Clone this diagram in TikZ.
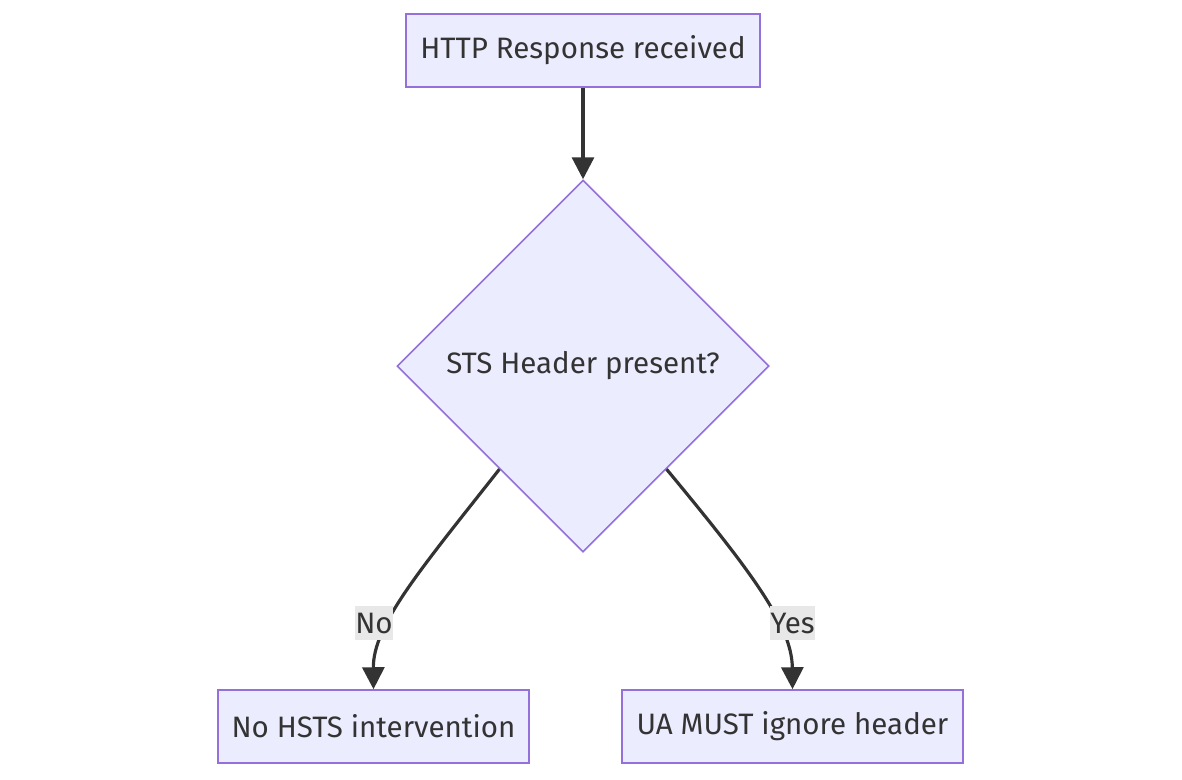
\documentclass[tikz,border=0pt]{standalone}
\usepackage{fontspec}
\setmainfont{Fira Sans}
\usetikzlibrary{shapes.geometric}
\usetikzlibrary{arrows.meta}
\definecolor{boxfill}{HTML}{ECECFF}
\definecolor{boxline}{HTML}{9370DB}
\definecolor{ink}{HTML}{333333}
\definecolor{labelbg}{HTML}{E8E8E8}
\tikzset{
  procbox/.style={draw=boxline, fill=boxfill, line width=0.9pt, text=ink,
    minimum height=1.46cm, inner sep=0pt, font=\fontsize{16.8}{20}\selectfont},
  decision/.style={diamond, draw=boxline, fill=boxfill, line width=0.9pt, text=ink,
    minimum width=7.44cm, minimum height=7.44cm, inner sep=0pt, font=\fontsize{16.8}{20}\selectfont},
  flow/.style={draw=ink, line width=1.8pt, -{Triangle[length=0.44cm, width=0.44cm]}},
  edgelabel/.style={fill=labelbg, text=ink, inner sep=0pt, minimum height=0.68cm,
    font=\fontsize{16.8}{20}\selectfont}
}
\begin{document}
\begin{tikzpicture}[x=0.02cm, y=-0.02cm]
        \useasboundingbox (0,0) rectangle (1182,779);
        % nodes
        \node[procbox, minimum width=7.08cm] (resp) at (583,50.5) {HTTP Response received};
        \node[decision] (sts) at (583,366) {STS Header present?};
        \node[procbox, minimum width=6.22cm] (nohsts) at (373.5,726.5) {No HSTS intervention};
        \node[procbox, minimum width=6.82cm] (ignore) at (792.5,726.5) {UA MUST ignore header};
        % edges
        \draw[flow] (resp.south) -- (sts.north);
        \draw[flow] (sts.231) .. controls (420,570) and (373,625) .. (nohsts.north);
        \draw[flow] (sts.309) .. controls (750,570) and (792,625) .. (ignore.north);
        % edge labels
        \node[edgelabel] (no) at (374,623) {No};
        \node[edgelabel] (yes) at (792.5,623) {Yes};
    \end{tikzpicture}
\end{document}
